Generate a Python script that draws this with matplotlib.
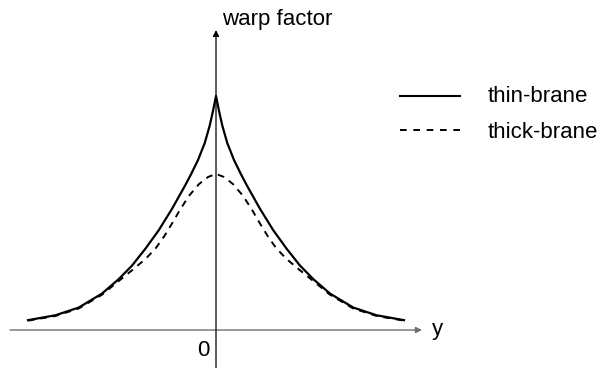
import numpy as np
import matplotlib.pyplot as plt

plt.rcParams['font.family'] = ['Liberation Sans', 'DejaVu Sans']
plt.rcParams['lines.scale_dashes'] = False

# right half of the curves (y >= 0); mirrored for y < 0
y_thin = [0, 0.08, 0.17, 0.30, 0.48, 0.66, 0.82, 1.17, 1.52, 1.88, 2.23, 2.59,
          3.03, 3.65, 4.27, 5.0]
w_thin = [1.0, 0.936, 0.872, 0.799, 0.726, 0.667, 0.618, 0.518, 0.427, 0.347,
          0.276, 0.217, 0.156, 0.096, 0.063, 0.042]

y_thick = [0, 0.21, 0.45, 0.72, 0.96, 1.17, 1.38, 1.60, 1.86, 2.13, 2.39, 2.66,
           3.03, 3.65, 4.27, 5.0]
w_thick = [0.667, 0.654, 0.624, 0.573, 0.513, 0.455, 0.400, 0.350, 0.306,
           0.269, 0.235, 0.200, 0.151, 0.092, 0.060, 0.040]

labels = ['thin-brane', 'thick-brane']


def mirror(y, w):
    y = np.asarray(y)
    w = np.asarray(w)
    return np.concatenate([-y[:0:-1], y]), np.concatenate([w[:0:-1], w])


fig = plt.figure(figsize=(6, 3.68), dpi=100)
ax = fig.add_axes([0, 0, 1, 1])
ax.set_xlim(-5.745, 10.213)
ax.set_ylim(-0.1624, 1.4103)
ax.axis('off')

# axes with arrows
ax.annotate('', xy=(5.479, 0), xytext=(-5.479, 0),
            arrowprops=dict(arrowstyle='-|>', color='#707070', lw=1.0,
                            mutation_scale=9, shrinkA=0, shrinkB=0))
ax.annotate('', xy=(0, 1.282), xytext=(0, -0.17),
            arrowprops=dict(arrowstyle='-|>', color='black', lw=0.9,
                            mutation_scale=9, shrinkA=0, shrinkB=0))

# curves
yy, ww = mirror(y_thin, w_thin)
ax.plot(yy, ww, color='black', lw=1.6, solid_joinstyle='round')
yy, ww = mirror(y_thick, w_thick)
ax.plot(yy, ww, color='black', lw=1.4, dashes=(4.8, 4.2))

# texts
ax.text(0.16, 1.303, 'warp factor', fontsize=16, ha='left', va='baseline')
ax.text(5.75, -0.021, 'y', fontsize=16, ha='left', va='baseline')
ax.text(-0.35, -0.111, '0', fontsize=16, ha='center', va='baseline')

# legend drawn by hand
ax.plot([4.89, 6.49], [1.0, 1.0], color='black', lw=1.5)
ax.plot([4.89, 6.49], [0.855, 0.855], color='black', lw=1.4, dashes=(4.8, 4.8))
ax.text(7.23, 0.976, labels[0], fontsize=16, ha='left', va='baseline')
ax.text(7.23, 0.820, labels[1], fontsize=16, ha='left', va='baseline')

fig.savefig('out.png', dpi=100)
